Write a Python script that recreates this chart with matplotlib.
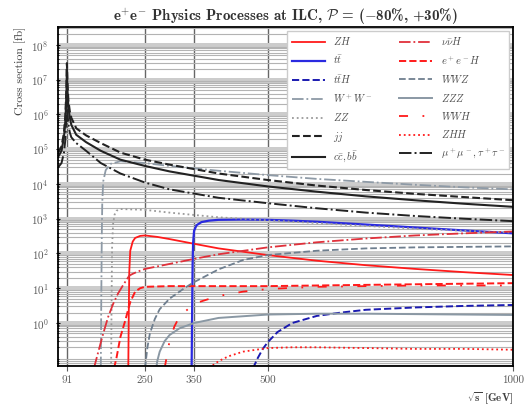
import matplotlib
matplotlib.use("Agg")
import matplotlib.pyplot as plt
import numpy as np

plt.rcParams['font.family'] = 'serif'
plt.rcParams['font.serif'] = ['cmr10', 'DejaVu Serif']
plt.rcParams['mathtext.fontset'] = 'cm'
plt.rcParams['axes.formatter.use_mathtext'] = True

# ---------------- data (sqrt(s) in GeV, cross section in fb) ----------------
s_jj = [73, 80, 85, 88, 90, 91, 92, 94, 97, 100, 110, 130, 160, 200, 250, 300, 400, 500, 600, 700, 800, 900, 1000]
xs_jj = [8e4, 1.2e5, 3e5, 1e6, 6e6, 3e7, 8e6, 2.5e6, 1.2e6, 8e5, 4e5, 2.5e5, 1.5e5, 8e4, 5e4, 3.6e4, 2e4, 1.3e4, 9e3, 6.7e3, 5.2e3, 4.2e3, 3.4e3]

s_cc = [73, 80, 85, 88, 90, 91, 92, 94, 97, 100, 110, 130, 160, 200, 250, 300, 400, 500, 600, 700, 800, 900, 1000]
xs_cc = [6e4, 9e4, 2.2e5, 7e5, 4e6, 2e7, 5e6, 1.6e6, 8e5, 5e5, 2.6e5, 1.6e5, 9e4, 5e4, 3.3e4, 2.3e4, 1.3e4, 8.5e3, 6e3, 4.4e3, 3.4e3, 2.7e3, 2.2e3]

s_mm = [73, 80, 85, 88, 90, 91, 92, 94, 97, 100, 110, 130, 145, 160, 200, 250, 300, 400, 500, 600, 700, 800, 900, 1000]
xs_mm = [3e4, 4e4, 8e4, 2e5, 1e6, 3e6, 1.2e6, 5e5, 3e5, 2.2e5, 1.5e5, 9e4, 6e4, 4e4, 2e4, 1.1e4, 7e3, 4e3, 2.8e3, 2e3, 1.5e3, 1.2e3, 1e3, 8.5e2]

s_ww = [160, 161, 162, 163, 165, 170, 180, 200, 250, 300, 400, 500, 600, 700, 800, 900, 1000]
xs_ww = [0.05, 5, 300, 3e3, 1.2e4, 2.5e4, 3.8e4, 4.5e4, 4e4, 3.3e4, 2.4e4, 1.8e4, 1.4e4, 1.15e4, 9.5e3, 8e3, 7e3]

s_zz = [181, 182, 183, 185, 188, 192, 200, 250, 300, 400, 500, 600, 700, 800, 900, 1000]
xs_zz = [0.05, 5, 150, 700, 1300, 1700, 1900, 1800, 1500, 1100, 900, 750, 620, 520, 450, 400]

s_zh = [216, 217, 218, 220, 225, 230, 240, 250, 275, 300, 350, 400, 500, 600, 700, 800, 900, 1000]
xs_zh = [0.05, 2, 30, 120, 220, 280, 320, 330, 300, 260, 190, 140, 90, 62, 46, 36, 29, 24]

s_tt = [345, 346, 347, 348, 350, 355, 365, 380, 400, 450, 500, 550, 600, 700, 800, 900, 1000]
xs_tt = [0.05, 2, 50, 200, 450, 650, 800, 880, 930, 950, 930, 880, 820, 680, 560, 460, 380]

s_tth = [470, 480, 490, 500, 520, 550, 600, 650, 700, 800, 900, 1000]
xs_tth = [0.05, 0.1, 0.18, 0.28, 0.55, 1.0, 1.6, 2.0, 2.4, 2.8, 3.1, 3.3]

s_nnh = [146, 155, 165, 175, 185, 195, 205, 213, 218, 225, 235, 250, 300, 350, 400, 500, 600, 700, 800, 900, 1000]
xs_nnh = [0.05, 0.15, 0.5, 1.5, 3.5, 7, 12, 18, 23, 26, 30, 36, 50, 70, 95, 150, 210, 270, 330, 380, 430]

s_eeh = [187, 192, 200, 210, 216, 220, 230, 240, 250, 300, 400, 500, 600, 700, 800, 900, 1000]
xs_eeh = [0.05, 0.1, 0.4, 1.2, 2.5, 4, 8, 10, 11, 11.5, 11.5, 11.5, 12, 12.5, 13, 13.5, 14]

s_wwz = [250, 255, 260, 270, 280, 300, 330, 350, 400, 450, 500, 600, 700, 800, 900, 1000]
xs_wwz = [0.05, 0.2, 0.5, 1.3, 2.5, 5, 10, 15, 35, 65, 90, 120, 140, 150, 155, 160]

s_zzz = [273, 275, 280, 290, 300, 320, 350, 400, 500, 600, 700, 800, 900, 1000]
xs_zzz = [0.05, 0.08, 0.15, 0.3, 0.45, 0.7, 1.0, 1.4, 1.75, 1.85, 1.85, 1.8, 1.75, 1.7]

s_wwh = [290, 300, 310, 320, 340, 360, 400, 450, 500, 600, 700, 800, 900, 1000]
xs_wwh = [0.05, 0.3, 0.8, 1.5, 2.7, 4, 6, 8, 9.5, 11, 11.5, 12, 12, 12]

s_zhh = [380, 400, 420, 450, 500, 550, 600, 700, 800, 900, 1000]
xs_zhh = [0.05, 0.08, 0.11, 0.15, 0.19, 0.2, 0.2, 0.19, 0.18, 0.18, 0.17]

xticks = [91, 250, 350, 500, 1000]
yticks = [1e0, 1e1, 1e2, 1e3, 1e4, 1e5, 1e6, 1e7, 1e8]

# ---------------- figure ----------------
fig = plt.figure(figsize=(5.28, 4.08), dpi=100)
ax = fig.add_axes([0.11, 0.103, 0.862, 0.831])

red = '#ff1a1a'
slate = '#6f7f8f'
c_ww = '#8e9aa6'

ax.plot(s_zh, xs_zh, color=red, lw=1.3, label=r'$ZH$')
ax.plot(s_tt, xs_tt, color='#2a2ae0', lw=1.6, label=r'$t\bar{t}$')
ax.plot(s_tth, xs_tth, color='#1a1ab0', lw=1.4, ls='--', label=r'$t\bar{t}H$')
ax.plot(s_ww, xs_ww, color=c_ww, lw=1.3, ls='-.', label=r'$W^+W^-$')
ax.plot(s_zz, xs_zz, color='#9a9a9a', lw=1.3, ls=':', label=r'$ZZ$')
ax.plot(s_jj, xs_jj, color='#222222', lw=1.5, ls='--', label=r'$jj$')
ax.plot(s_cc, xs_cc, color='#222222', lw=1.5, ls='-', label=r'$c\bar{c}, b\bar{b}$')
ax.plot(s_nnh, xs_nnh, color='#e0303a', lw=1.3, ls='-.', label=r'$\nu\bar{\nu}H$')
ax.plot(s_eeh, xs_eeh, color=red, lw=1.4, ls='--', label=r'$e^+e^-H$')
ax.plot(s_wwz, xs_wwz, color=slate, lw=1.3, ls='--', label=r'$WWZ$')
ax.plot(s_zzz, xs_zzz, color='#8a98a4', lw=1.4, ls='-', label=r'$ZZZ$')
ax.plot(s_wwh, xs_wwh, color=red, lw=1.3, ls=(0, (5, 8, 1, 8)), label=r'$WWH$')
ax.plot(s_zhh, xs_zhh, color=red, lw=1.3, ls=':', label=r'$ZHH$')
ax.plot(s_mm, xs_mm, color='#222222', lw=1.4, ls='-.', label=r'$\mu^+\mu^-, \tau^+\tau^-$')

ax.set_yscale('log')
ax.set_xlim(73, 1000)
ax.set_ylim(0.058, 3.3e8)
ax.set_xticks(xticks)
ax.set_xticklabels([str(v) for v in xticks])
ax.set_yticks(yticks)
ax.yaxis.set_minor_locator(matplotlib.ticker.LogLocator(base=10, subs=np.arange(2, 10), numticks=30))
ax.yaxis.set_minor_formatter(matplotlib.ticker.NullFormatter())
ax.tick_params(labelsize=8, colors='0.35', labelcolor='0.35')
ax.tick_params(axis='y', which='both', direction='inout', color='k', pad=5)

ax.grid(axis='y', which='major', color='0.8', lw=3.6, zorder=0)
ax.grid(axis='y', which='minor', color='0.7', lw=0.8, zorder=0)
ax.grid(axis='x', which='major', color='0.4', lw=1.0, zorder=0)
ax.set_axisbelow(True)
for sp in ax.spines.values():
    sp.set_linewidth(1.3)

ax.set_ylabel('Cross section [fb]', fontsize=8.5, color='0.25', loc='top')
ax.set_xlabel(r'$\mathbf{\sqrt{s}}$ [GeV]', fontsize=8, loc='right', fontfamily='cmb10', color='0.25')
ax.set_title(r'e$^{+}$e$^{-}$ Physics Processes at ILC, $\mathcal{P}$ = ($-$80%, +30%)',
             fontsize=10.8, fontfamily='cmb10', color='0.2', pad=4)

leg = ax.legend(ncol=2, loc='upper right', fontsize=7.5, handlelength=3.2, columnspacing=2.5,
                labelspacing=0.62, framealpha=1, edgecolor='0.8', fancybox=False,
                borderaxespad=0.4, labelcolor='0.3')

fig.savefig('out.png', dpi=100)
